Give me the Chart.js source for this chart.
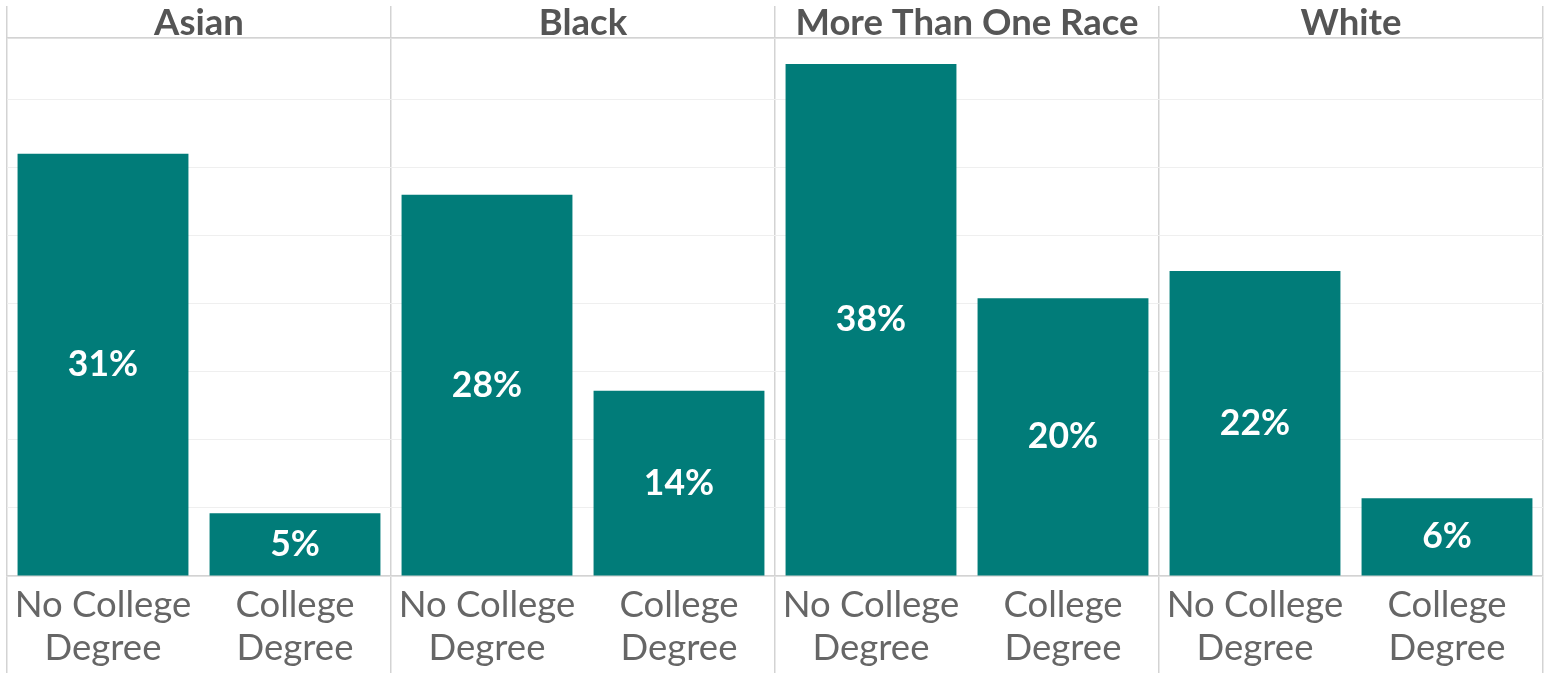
<!DOCTYPE html>
<html>
<head>
<meta charset="utf-8">
<script src="https://cdn.jsdelivr.net/npm/chart.js@4.4.1/dist/chart.umd.min.js"></script>
<style>
html,body{margin:0;padding:0;background:#fff;}
#wrap{width:1544px;height:673px;}
</style>
</head>
<body>
<div id="wrap"><canvas id="c" width="1544" height="673"></canvas></div>
<script>
const groups = ['Asian', 'Black', 'More Than One Race', 'White'];
const categories = [
  ['No College', 'Degree'], ['College', 'Degree'],
  ['No College', 'Degree'], ['College', 'Degree'],
  ['No College', 'Degree'], ['College', 'Degree'],
  ['No College', 'Degree'], ['College', 'Degree']
];
const values = [31.0, 4.6, 28.0, 13.6, 37.6, 20.4, 22.4, 5.7];
const yMax = 39.5;
const yStep = 5;

const SEP = '#d3d3d3';
const TEAL = '#017c79';

const barLabels = {
  id: 'barLabels',
  afterDatasetsDraw(chart) {
    const ctx = chart.ctx;
    const meta = chart.getDatasetMeta(0);
    ctx.save();
    ctx.fillStyle = '#ffffff';
    ctx.font = 'bold 35.5px Lato';
    ctx.textAlign = 'center';
    ctx.textBaseline = 'middle';
    meta.data.forEach((bar, i) => {
      const p = bar.getProps(['x', 'y', 'base'], true);
      ctx.fillText(Math.round(values[i]) + '%', p.x, (p.y + p.base) / 2);
    });
    ctx.restore();
  }
};

new Chart(document.getElementById('c'), {
  type: 'bar',
  data: {
    labels: categories,
    datasets: [{
      data: values,
      backgroundColor: TEAL,
      borderWidth: 0,
      barPercentage: 0.89,
      categoryPercentage: 1.0
    }]
  },
  options: {
    responsive: false,
    animation: false,
    events: [],
    layout: { padding: { left: 0, right: 1, top: 0, bottom: 0 } },
    plugins: { legend: { display: false }, tooltip: { enabled: false } },
    scales: {
      x: {
        position: 'bottom',
        offset: true,
        grid: {
          display: true,
          offset: true,
          drawOnChartArea: true,
          drawTicks: true,
          tickLength: 97,
          lineWidth: 1.5,
          color: (c) => (c.index === undefined || c.index % 2 === 0) ? SEP : 'rgba(0,0,0,0)'
        },
        border: { display: true, color: SEP, width: 1.5 },
        ticks: {
          color: '#666666',
          font: { family: 'Lato', size: 36.5, lineHeight: 1.18 },
          padding: -89,
          maxRotation: 0,
          autoSkip: false
        },
        afterFit(s) { s.height = 97; }
      },
      groups: {
        type: 'category',
        labels: groups,
        position: 'top',
        offset: true,
        grid: {
          display: true,
          offset: true,
          drawOnChartArea: false,
          drawTicks: true,
          tickLength: 32,
          lineWidth: 1.5,
          color: SEP
        },
        border: { display: true, color: SEP, width: 1.5 },
        ticks: {
          color: '#555555',
          font: { family: 'Lato', size: 36.5, weight: 'bold', lineHeight: 1.2 },
          padding: -39,
          maxRotation: 0,
          autoSkip: false
        },
        afterFit(s) { s.height = 38; }
      },
      y: {
        min: 0,
        max: yMax,
        ticks: { display: false, stepSize: yStep },
        grid: { color: '#efefef', drawTicks: false, lineWidth: 1 },
        border: { display: false },
        afterFit(s) { s.width = 7; }
      }
    }
  },
  plugins: [barLabels]
});
</script>
</body>
</html>
